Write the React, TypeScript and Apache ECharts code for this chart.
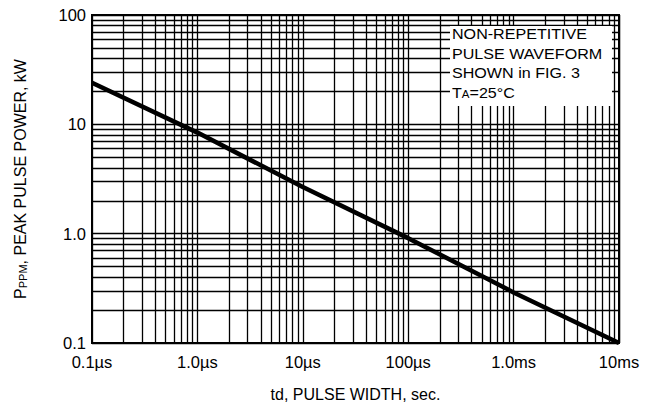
import React, { useEffect, useRef } from "react";
import * as echarts from "echarts";

// Curve: pulse width (s) vs peak pulse power (kW)
const pulseWidthSec = [1e-7, 1e-6, 1e-5, 1e-4, 1e-3, 1e-2];
const peakPowerKW = [24, 8.4, 2.67, 0.91, 0.29, 0.1];

const xTickLabels = ["0.1µs", "1.0µs", "10µs", "100µs", "1.0ms", "10ms"];
const yTickLabels = ["0.1", "1.0", "10", "100"];
const xDecades = [-7, -6, -5, -4, -3];
const yDecades = [-1, 0, 1];
const minorMultipliers = [2, 3, 4, 5, 6, 7, 8, 9];
const xRange = [1e-7, 1e-2];
const yRange = [0.1, 100];

const noteLines = ["NON-REPETITIVE", "PULSE WAVEFORM", "SHOWN in FIG. 3", "T{s|A}=25°C"];

const FONT = "'Liberation Sans', Arial, Helvetica, sans-serif";

export default function App() {
  const ref = useRef<HTMLDivElement>(null);
  useEffect(() => {
    if (!ref.current) return;
    const chart = echarts.init(ref.current, null, { renderer: "svg" });
    const minor: any[] = [];
    xDecades.forEach((d) =>
      minorMultipliers.forEach((m) => {
        const v = m * Math.pow(10, d);
        minor.push([{ coord: [v, yRange[0]] }, { coord: [v, yRange[1]] }]);
      })
    );
    yDecades.forEach((d) =>
      minorMultipliers.forEach((m) => {
        const v = m * Math.pow(10, d);
        minor.push([{ coord: [xRange[0], v] }, { coord: [xRange[1], v] }]);
      })
    );

    const gridLineStyle = { color: "#000", width: 1.3, type: "solid" as const };

    chart.setOption({
      animation: false,
      backgroundColor: "#fff",
      textStyle: { fontFamily: FONT },
      grid: {
        left: 92,
        right: 26,
        top: 15,
        bottom: 61,
        containLabel: false,
        outerBoundsMode: "none",
        show: true,
        borderColor: "#000",
        borderWidth: 2,
        backgroundColor: "#fff",
      },
      xAxis: {
        type: "log",
        logBase: 10,
        min: xRange[0],
        max: xRange[1],
        splitNumber: 5,
        axisLine: { show: true, lineStyle: { color: "#000", width: 2 } },
        axisTick: { show: false },
        splitLine: { show: true, lineStyle: gridLineStyle },
        axisLabel: {
          color: "#000",
          fontSize: 16.5,
          fontFamily: FONT,
          margin: 10,
          formatter: (v: number) => xTickLabels[Math.round(Math.log10(v)) + 7] ?? "",
        },
        name: "td, PULSE WIDTH, sec.",
        nameLocation: "middle",
        nameGap: 43,
        nameTextStyle: { color: "#000", fontSize: 16, fontFamily: FONT },
      },
      yAxis: {
        type: "log",
        logBase: 10,
        min: yRange[0],
        max: yRange[1],
        splitNumber: 3,
        axisLine: { show: true, lineStyle: { color: "#000", width: 2 } },
        axisTick: { show: false },
        splitLine: { show: true, lineStyle: gridLineStyle },
        axisLabel: {
          color: "#000",
          fontSize: 16.5,
          fontFamily: FONT,
          margin: 6,
          formatter: (v: number) => yTickLabels[Math.round(Math.log10(v)) + 1] ?? "",
        },
        name: "P{s|PPM}, PEAK PULSE POWER, kW",
        nameLocation: "middle",
        nameGap: 64,
        nameTextStyle: {
          color: "#000",
          fontSize: 16,
          fontFamily: FONT,
          rich: { s: { fontSize: 11, color: "#000", fontFamily: FONT, verticalAlign: "bottom" } },
        },
      },
      series: [
        {
          type: "line",
          data: [],
          z: 1,
          silent: true,
          markLine: {
            silent: true,
            symbol: ["none", "none"],
            label: { show: false },
            lineStyle: gridLineStyle,
            emphasis: { disabled: true },
            data: minor,
          },
        },
        {
          type: "line",
          z: 5,
          data: pulseWidthSec.map((x, i) => [x, peakPowerKW[i]]),
          showSymbol: false,
          symbol: "none",
          lineStyle: { color: "#000", width: 4.5 },
          clip: true,
        },
      ],
      graphic: [
        {
          type: "rect",
          z: 100,
          shape: { x: 450, y: 26, width: 162, height: 80 },
          style: { fill: "#fff" },
        },
        ...noteLines.map((t, i) => ({
          type: "text",
          z: 101,
          x: 452,
          y: 34 + i * 19.5,
          scaleX: 1.15,
          style: {
            text: t,
            fill: "#000",
            fontSize: 14,
            fontFamily: FONT,
            verticalAlign: "middle",
            align: "left",
            rich: { s: { fontSize: 10, fill: "#000", fontFamily: FONT, verticalAlign: "bottom" } },
          },
        })),
      ],
    });
    return () => chart.dispose();
  }, []);
  return (
    <div
      ref={ref}
      style={{ position: "fixed", left: 0, top: 0, width: 645, height: 404 }}
    />
  );
}
